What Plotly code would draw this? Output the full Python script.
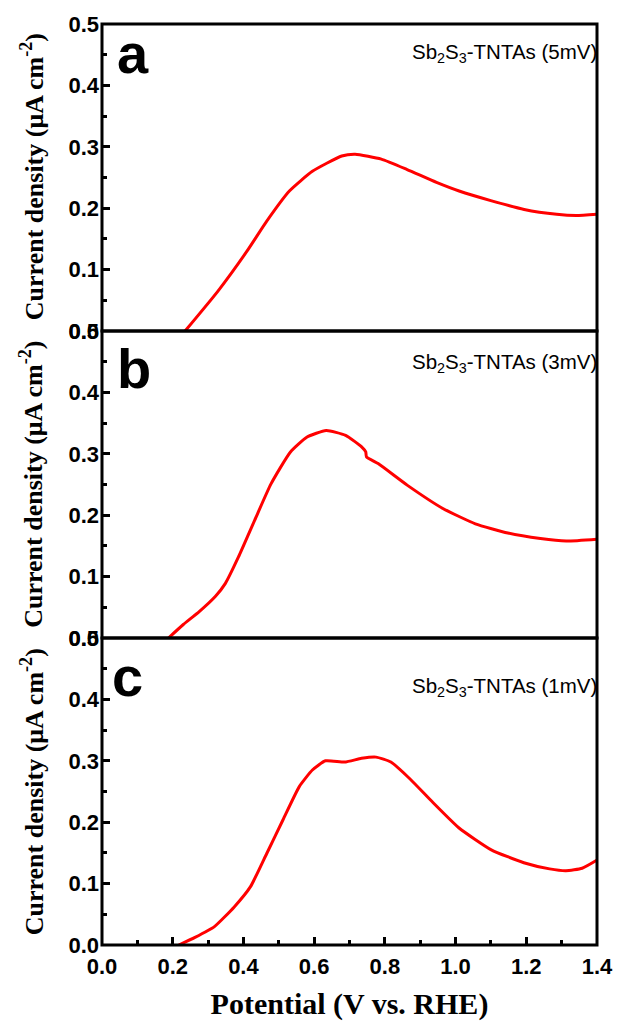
import plotly.graph_objects as go
from plotly.subplots import make_subplots

# ---- data ----
a_v = [0.235, 0.328, 0.410, 0.466, 0.530, 0.595, 0.678, 0.716, 0.790, 0.863, 0.946, 1.010, 1.102, 1.194, 1.286, 1.341, 1.400]
a_j = [0.000, 0.065, 0.130, 0.179, 0.228, 0.260, 0.285, 0.288, 0.280, 0.263, 0.242, 0.228, 0.212, 0.198, 0.190, 0.188, 0.190]

b_v = [0.188, 0.230, 0.275, 0.321, 0.349, 0.386, 0.432, 0.478, 0.533, 0.579, 0.634, 0.689, 0.735, 0.746, 0.748,
       0.781, 0.863, 0.964, 1.056, 1.148, 1.240, 1.313, 1.400]
b_j = [0.000, 0.022, 0.043, 0.068, 0.089, 0.132, 0.192, 0.251, 0.303, 0.327, 0.338, 0.330, 0.311, 0.303, 0.295,
       0.284, 0.249, 0.211, 0.186, 0.171, 0.162, 0.158, 0.161]

c_v = [0.217, 0.263, 0.318, 0.374, 0.420, 0.466, 0.512, 0.558, 0.595, 0.632, 0.687, 0.734, 0.775, 0.817,
       0.872, 0.936, 1.009, 1.101, 1.193, 1.266, 1.312, 1.358, 1.399]
c_j = [0.000, 0.0125, 0.030, 0.062, 0.095, 0.149, 0.204, 0.258, 0.285, 0.300, 0.298, 0.304, 0.306, 0.298,
       0.270, 0.232, 0.191, 0.155, 0.134, 0.124, 0.121, 0.125, 0.138]

panel_letters = ["a", "b", "c"]
panel_labels = ["Sb<sub>2</sub>S<sub>3</sub>-TNTAs (5mV)",
                "Sb<sub>2</sub>S<sub>3</sub>-TNTAs (3mV)",
                "Sb<sub>2</sub>S<sub>3</sub>-TNTAs (1mV)"]
y_ticks = [0.0, 0.1, 0.2, 0.3, 0.4, 0.5]
x_ticks = [0.0, 0.2, 0.4, 0.6, 0.8, 1.0, 1.2, 1.4]
y_title = "Current density (μA cm<sup>-2</sup>)"
x_title = "Potential (V vs. RHE)"

W, H = 625, 1026
L, R, T, B = 101.5, 17, 22.7, 81

fig = make_subplots(rows=3, cols=1, shared_xaxes=True, vertical_spacing=0)

series = [(a_v, a_j), (b_v, b_j), (c_v, c_j)]
for i, (xv, yv) in enumerate(series):
    fig.add_trace(go.Scatter(x=xv, y=yv, mode="lines",
                             line=dict(color="#ff0000", width=3, shape="spline", smoothing=0.5),
                             showlegend=False), row=i + 1, col=1)

sans = "Liberation Sans, Arial, sans-serif"
serif = "Liberation Serif, Times New Roman, serif"
tickfont = dict(family=sans, size=22, color="black", weight="bold")

for i in range(3):
    r = i + 1
    fig.update_yaxes(row=r, col=1, range=[0, 0.5], tickvals=y_ticks,
                     ticktext=[f"{v:.1f}" for v in y_ticks],
                     ticks="inside", ticklen=8, tickwidth=2.5, tickcolor="black",
                     minor=dict(ticks="inside", ticklen=5, tickwidth=2.5, tickcolor="black", dtick=0.05, tick0=0),
                     showline=False, showgrid=False, zeroline=False, ticklabelstandoff=2,
                     tickfont=tickfont)
    xkw = dict(range=[0, 1.4], showline=False, showgrid=False, zeroline=False)
    if r == 3:
        xkw.update(tickvals=x_ticks, ticktext=[f"{v:.1f}" for v in x_ticks],
                   ticks="inside", ticklen=8, tickwidth=2.5, tickcolor="black",
                   minor=dict(ticks="inside", ticklen=5, tickwidth=2.5, tickcolor="black", dtick=0.1, tick0=0),
                   showticklabels=True, ticklabelstandoff=6,
                   tickfont=tickfont,
                   title=dict(text=x_title, font=dict(family=serif, size=30, color="black", weight="bold"),
                              standoff=14))
    else:
        xkw.update(ticks="", showticklabels=False)
    fig.update_xaxes(row=r, col=1, **xkw)

# helpers: pixel -> paper fraction
ph = (H - T - B)
pw = (W - L - R)
def py(y):
    return 1 - (y - T) / ph
def px(x):
    return (x - L) / pw

# panel frames (drawn as shapes so shared borders are single 3px lines)
for i in range(3):
    ya = "y" if i == 0 else f"y{i + 1}"
    xa = "x" if i == 0 else f"x{i + 1}"
    fig.add_shape(type="rect", xref=f"{xa} domain", yref=f"{ya} domain", x0=0, x1=1, y0=0, y1=1,
                  line=dict(color="black", width=3), fillcolor="rgba(0,0,0,0)", layer="above")

letter_pos = [(115, 52), (115, 368), (110, 676)]
label_pos = [(610, 52), (610, 362), (610, 687)]
panel_mid = [176, 484, 792]
for i in range(3):
    fig.add_annotation(x=px(letter_pos[i][0]), y=py(letter_pos[i][1]), xref="paper", yref="paper",
                       text=panel_letters[i], showarrow=False, xanchor="left", yanchor="middle",
                       font=dict(family=sans, size=56, color="black", weight="bold"))
    fig.add_annotation(x=px(label_pos[i][0]), y=py(label_pos[i][1]), xref="paper", yref="paper",
                       text=panel_labels[i], showarrow=False, xanchor="right", yanchor="middle",
                       font=dict(family=sans, size=20.5, color="black"))
    fig.add_annotation(x=px(30), y=py(panel_mid[i]), xref="paper", yref="paper",
                       text=y_title, showarrow=False, textangle=-90, xanchor="center", yanchor="middle",
                       font=dict(family=serif, size=26, color="black", weight="bold"))

fig.update_layout(width=W, height=H, margin=dict(l=L, r=R, t=T, b=B, pad=0),
                  plot_bgcolor="white", paper_bgcolor="white")

fig.write_html("out.html")
